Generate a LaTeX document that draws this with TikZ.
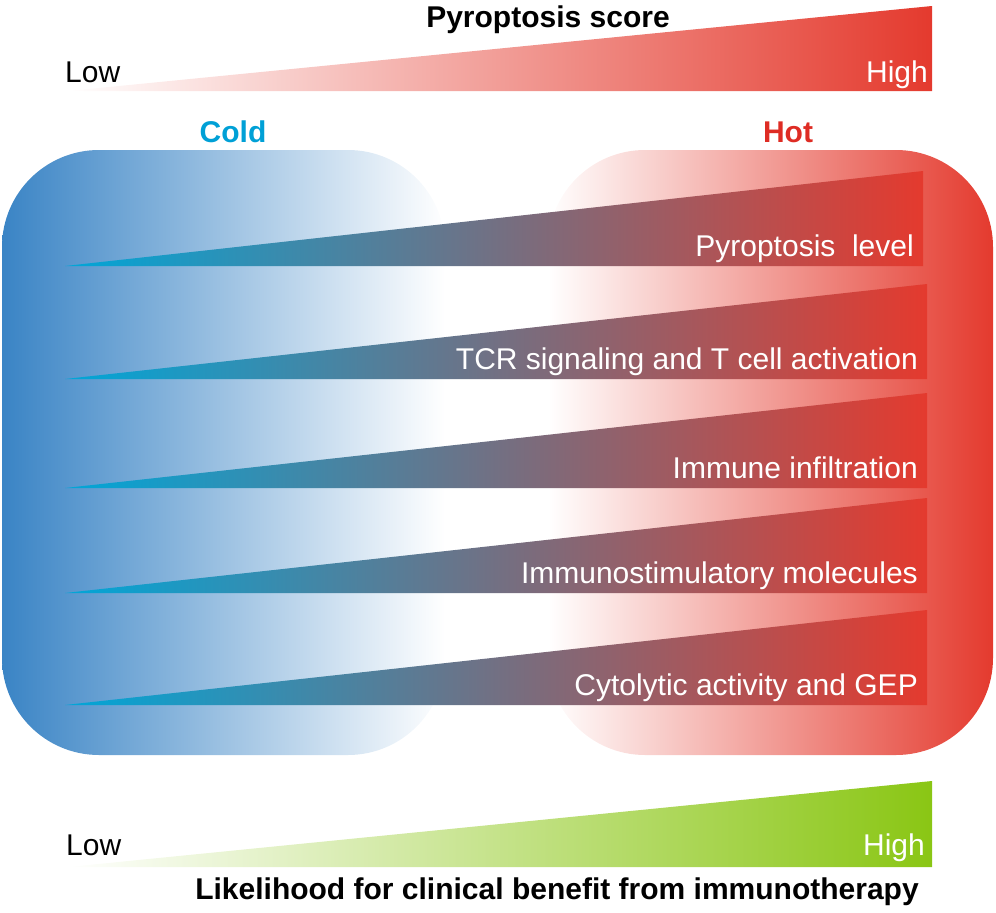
\documentclass[tikz,border=0pt]{standalone}
\usepackage{fontspec}
\setmainfont{Liberation Sans}
\definecolor{coldblue}{RGB}{58,132,197}
\definecolor{coldtext}{RGB}{0,160,214}
\definecolor{hotred}{RGB}{228,58,46}
\definecolor{hottext}{RGB}{222,44,36}
\definecolor{wedgecyan}{RGB}{0,166,216}
\definecolor{wedgegray}{RGB}{110,104,124}
\definecolor{benefitgreen}{RGB}{138,198,20}
\tikzset{
  lbl/.style={font=\fontsize{30}{35}\selectfont, inner sep=0pt},
  bold lbl/.style={lbl, font=\fontsize{30}{35}\selectfont\bfseries},
  row text/.style={lbl, text=white, anchor=base east}
}
\begin{document}
\begin{tikzpicture}[x=1pt,y=-1pt]
\useasboundingbox (0,0) rectangle (996,913);
\shade [left color=coldblue, right color=white, rounded corners=97pt] (2,150) rectangle (445,755);
\shade [left color=white, right color=hotred, rounded corners=97pt] (548,150) rectangle (993,755);
\shade [left color=white, right color=hotred] (68,91) -- (932,6) -- (932,91) -- cycle;
\node [bold lbl, anchor=base] (score) at (548,27) {Pyroptosis score};
\node [lbl, anchor=base west] (scorelow) at (65,82) {Low};
\node [lbl, anchor=base east, text=white] (scorehigh) at (928,82) {High};
\node [bold lbl, anchor=base, text=coldtext] (cold) at (233,142) {Cold};
\node [bold lbl, anchor=base, text=hottext] (hot) at (788,142) {Hot};
\foreach \yb/\yt/\xr/\txt [count=\i] in {266/171/923/{Pyroptosis\ \ level},
    379/284/927/{TCR signaling and T cell activation},
    488/393/927/{Immune infiltration},
    593/498/927/{Immunostimulatory molecules},
    705/610/927/{Cytolytic activity and GEP}}
{
  \shade [left color=wedgecyan, middle color=wedgegray, right color=hotred] (65,\yb) -- (\xr,\yt) -- (\xr,\yb) -- cycle;
  \node [row text] (row\i) at (\xr-9,\yb-10) {\txt};
}
\shade [left color=white, right color=benefitgreen] (68,867) -- (932,781) -- (932,867) -- cycle;
\node [lbl, anchor=base west] (benefitlow) at (66,855) {Low};
\node [lbl, anchor=base east, text=white] (benefithigh) at (925,855) {High};
\node [bold lbl, anchor=base] (benefit) at (557,899) {Likelihood for clinical benefit from immunotherapy};
\end{tikzpicture}
\end{document}
